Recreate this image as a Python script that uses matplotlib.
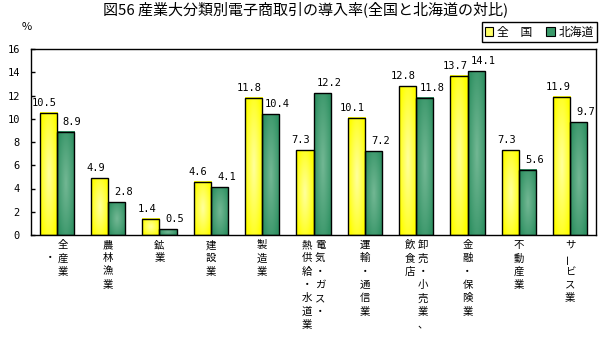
import numpy as np
import matplotlib
matplotlib.use("Agg")
import matplotlib.pyplot as plt
from matplotlib.patches import Patch

plt.rcParams['font.family'] = ['Noto Sans CJK JP', 'DejaVu Sans']

# ---------------- data ----------------
title = "図56 産業大分類別電子商取引の導入率(全国と北海道の対比)"
series_names = ["全　国", "北海道"]
categories = ["全産業", "農林漁業", "鉱業", "建設業", "製造業",
              "電気・ガス・熱供給・水道業", "運輸・通信業",
              "卸売・小売業、飲食店", "金融・保険業", "不動産業", "サービス業"]
# vertical tick label columns, right column first
category_columns = [["全産業", "　・"], ["農林漁業"], ["鉱業"], ["建設業"], ["製造業"],
                    ["電気・ガス・", "熱供給・水道業"], ["運輸・通信業"],
                    ["卸売・小売業、", "飲食店"], ["金融・保険業"], ["不動産業"],
                    ["サービス業"]]
zenkoku = [10.5, 4.9, 1.4, 4.6, 11.8, 7.3, 10.1, 12.8, 13.7, 7.3, 11.9]
hokkaido = [8.9, 2.8, 0.5, 4.1, 10.4, 12.2, 7.2, 11.8, 14.1, 5.6, 9.7]
yticks = [0, 2, 4, 6, 8, 10, 12, 14, 16]
unit = "%"

# ---------------- figure ----------------
W, H = 608, 338
fig = plt.figure(figsize=(W / 100, H / 100), dpi=100)
ax = fig.add_axes([31 / W, 1 - 235 / H, (596 - 31) / W, (235 - 49) / H])

bw = 1 / 3
x = np.arange(len(categories))


def gradient_img(edge, center, nx=40, ny=80):
    dx = np.linspace(-1, 1, nx)[None, :]
    dy = np.linspace(-1, 1, ny)[:, None]
    r = np.sqrt(dx ** 2 + 0.7 * dy ** 2)
    w = np.clip(1 - r / 1.05, 0, 1) ** 0.9
    edge = np.array(edge)
    center = np.array(center)
    return edge[None, None, :] * (1 - w[..., None]) + center[None, None, :] * w[..., None]


yel_img = gradient_img((1.0, 1.0, 0.0), (1.0, 1.0, 0.62))
grn_img = gradient_img((0.19, 0.57, 0.39), (0.45, 0.72, 0.58))

for xi, v in zip(x, zenkoku):
    ax.imshow(yel_img, extent=(xi - bw, xi, 0, v), aspect='auto',
              interpolation='bilinear', zorder=2)
for xi, v in zip(x, hokkaido):
    ax.imshow(grn_img, extent=(xi, xi + bw, 0, v), aspect='auto',
              interpolation='bilinear', zorder=2)

ax.bar(x - bw / 2, zenkoku, bw, facecolor='none', edgecolor='black', linewidth=1, zorder=3)
ax.bar(x + bw / 2, hokkaido, bw, facecolor='none', edgecolor='black', linewidth=1, zorder=3)

num_font = dict(family='DejaVu Sans Mono', fontsize=7.5)
for xi, v in zip(x, zenkoku):
    ax.annotate(f"{v:.1f}", xy=(xi - bw / 2, v), xytext=(-4, 5), textcoords='offset pixels',
                ha='center', va='bottom', **num_font)
for xi, v in zip(x, hokkaido):
    ax.annotate(f"{v:.1f}", xy=(xi + bw / 2, v), xytext=(7, 5), textcoords='offset pixels',
                ha='center', va='bottom', **num_font)

ax.set_xlim(-0.5, len(categories) - 0.5)
ax.set_ylim(0, 16)
ax.set_yticks(yticks)
ax.set_yticklabels([str(t) for t in yticks], **num_font)
ax.tick_params(axis='y', direction='in', length=3, width=1, pad=8)
ax.set_xticks([])
for s in ax.spines.values():
    s.set_linewidth(1)
    s.set_color('black')

# vertical category labels
line_h = 13.3
for xi, cols in zip(x, category_columns):
    n = len(cols)
    offs = [0] if n == 1 else [6.5, -6.5]
    for off, col in zip(offs, cols):
        for k, ch in enumerate(col):
            if ch.strip() == "" or ch == "　":
                continue
            rot = 90 if ch == "ー" else 0
            ax.annotate(ch, xy=(xi, 0), xycoords=('data', 'axes fraction'),
                        xytext=(off, -5 - line_h * k), textcoords='offset pixels',
                        ha='center', va='top', fontsize=7.5, rotation=rot,
                        annotation_clip=False)

fig.text(306 / W, 1 - 9 / H, title, ha='center', va='center', fontsize=10.8)
fig.text(27 / W, 1 - 27 / H, unit, ha='center', va='center', fontsize=8)

handles = [Patch(facecolor='#FFFF66', edgecolor='black', linewidth=0.8),
           Patch(facecolor='#3A9A6A', edgecolor='black', linewidth=0.8)]
leg = fig.legend(handles, series_names, loc='upper right', bbox_to_anchor=(597 / W, 1 - 22 / H),
                 ncol=2, fontsize=8.5, frameon=True, fancybox=False, framealpha=1,
                 edgecolor='black', handlelength=0.7, handleheight=0.7, handletextpad=0.3,
                 columnspacing=1.2, borderpad=0.3, borderaxespad=0)
leg.get_frame().set_linewidth(1)

fig.savefig("out.png", dpi=100)
